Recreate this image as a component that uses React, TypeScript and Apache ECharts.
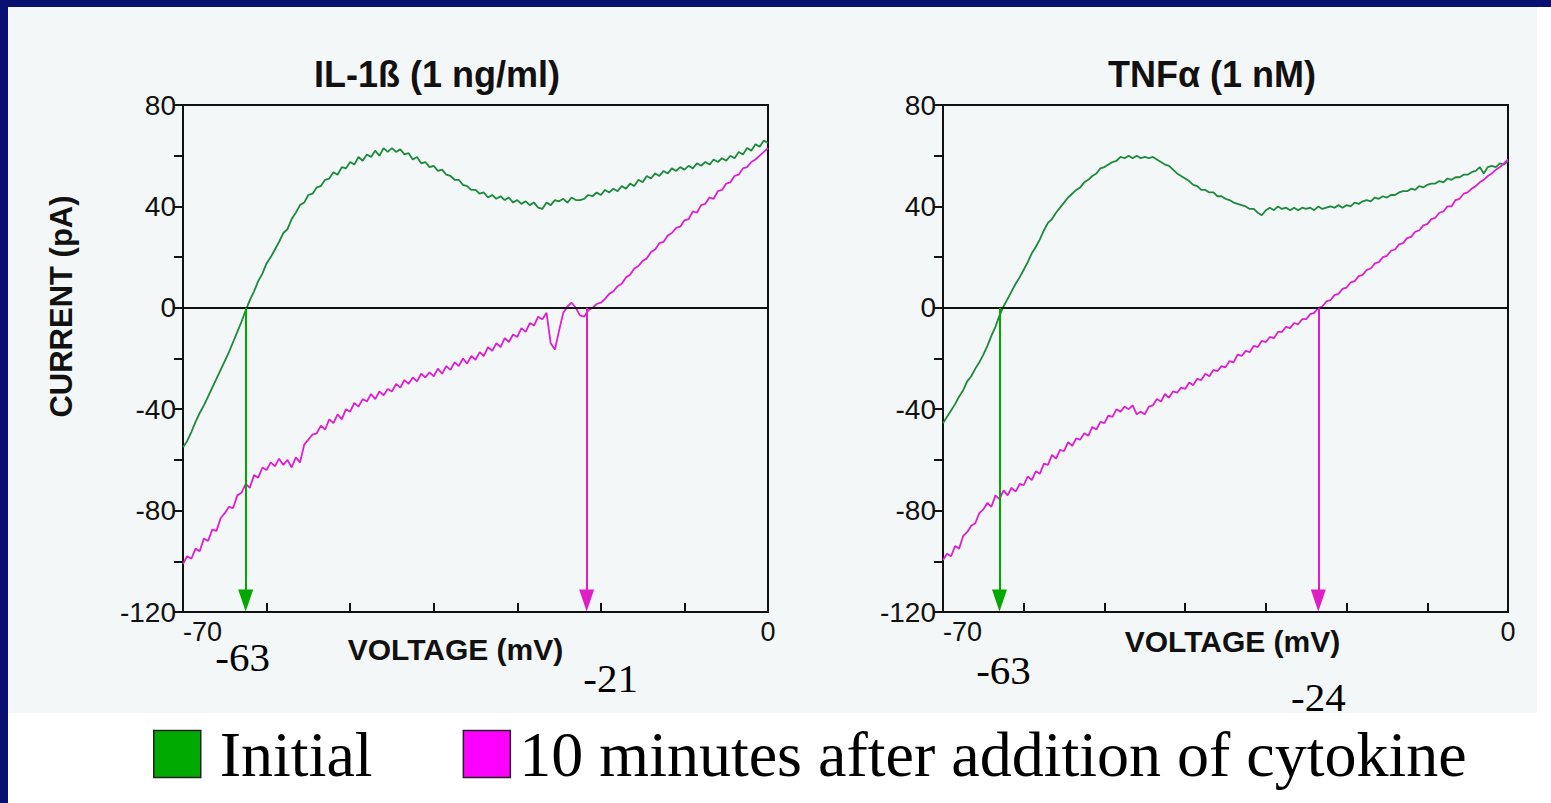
import React, { useEffect, useRef } from "react";
import * as echarts from "echarts";

// ---------- data ----------
const panelTitles = ["IL-1ß (1 ng/ml)", "TNF\u03b1 (1 nM)"];
const seriesNames = ["Initial", "10 minutes after addition of cytokine"];
const xLabelValues = [-70, 0];
const yLabelValues = [-120, -80, -40, 0, 40, 80];

// voltage ramp sampling: -70 mV to 0 mV, one sample every 0.5 mV
const voltageStart = -70;
const voltageStep = 0.5;

const il1bInitial = [
  -55, -52.5, -49, -45, -41.5, -38.5, -35, -31.5, -28, -24.5,
  -21, -17.5, -13.5, -9.5, -5.5, -1, 3, 6.5, 10.5, 13.5,
  17.5, 20, 23, 26, 29.5, 31, 35, 37.5, 40.5, 41.5,
  44.5, 45, 47.5, 48, 50.5, 51, 53.5, 52.5, 55.5, 55,
  57.5, 56.5, 59.5, 58, 60.5, 59.5, 62, 60, 63, 61.5,
  63, 61.5, 62.5, 60.5, 61, 58.5, 59.5, 57, 57.5, 55.5,
  56, 54, 54.5, 52.5, 52, 50.5, 50.5, 48.5, 48, 46.5,
  46.5, 45, 45.5, 43.5, 44.5, 43, 44, 42.5, 43.5, 41.5,
  42.5, 41, 42, 40.5, 41.5, 39.5, 39, 41.5, 40.5, 42.5,
  42, 43, 41.5, 43.5, 42.5, 42.5, 43, 44.5, 44, 45.5,
  44.5, 46.5, 45.5, 47, 46, 48, 47, 49, 48, 50.5,
  49.5, 52, 51, 53, 52, 54, 53, 55, 54, 55.5,
  54.5, 56, 55, 57, 56, 57.5, 56.5, 58.5, 57.5, 59,
  58, 60, 59, 61.5, 60.5, 63, 62, 64.5, 63.5, 66,
  65,
];

const il1bAfter = [
  -101, -98, -99, -95, -96, -91, -92, -87.5, -88, -83,
  -81, -78.5, -79, -74, -73, -69.5, -71, -66, -67, -63,
  -64, -61, -62.5, -59.5, -62, -60, -63, -59, -61, -54,
  -52, -50, -49.5, -46.5, -48, -44, -45.5, -42, -44, -40,
  -41, -37.5, -39, -36, -37, -34, -36, -33, -34.5, -32,
  -33, -30, -31.5, -28.5, -30, -27.5, -29, -26, -27.5, -25.5,
  -27, -24, -26, -23, -24.5, -21.5, -23, -20, -22, -19,
  -20.5, -17.5, -19, -15.5, -17, -14, -15.5, -12, -13.5, -10.5,
  -11.5, -8, -9.5, -6, -7, -3.5, -4.5, -2, -14, -16.5,
  -9, -2, 0.5, 2, 0, -3, -3.5, -1, 0, 1.5,
  2, 3.5, 5.5, 6.5, 8.5, 9.5, 12, 13, 15.5, 16.5,
  18.5, 19.5, 22, 23, 25.5, 26, 28.5, 29.5, 31.5, 32,
  34.5, 35, 38, 37.5, 40.5, 41, 43.5, 43, 46, 46.5,
  49, 49.5, 52, 52.5, 55, 55.5, 57.5, 58.5, 60, 61.5,
  63,
];

const tnfInitial = [
  -45.5, -43, -40.5, -38, -35, -32.5, -29, -27, -24, -21.5,
  -18.5, -15, -11, -7.5, -3, 0.5, 3.5, 6.5, 9.5, 12,
  15, 18, 21.5, 24, 27, 30.5, 33.5, 35, 37.5, 39.5,
  41.5, 43.5, 45, 46.5, 47.5, 49.5, 50.5, 52, 53, 55,
  55.5, 56.5, 57.5, 58, 59.5, 59, 60, 59, 60, 59,
  59.5, 59, 59.5, 58.5, 57.5, 56.5, 56, 54.5, 53, 52,
  51, 50, 48.5, 48, 46.5, 46.5, 45.5, 45.5, 44, 44,
  43, 42.5, 41.5, 41, 40.5, 40, 39, 39, 37.5, 36.5,
  38.5, 39.5, 38.5, 40, 39, 39.5, 38.5, 39.5, 38.5, 39.5,
  39, 39.5, 38.5, 40, 39, 39.5, 40, 39.5, 40.5, 39.5,
  40.5, 40, 41.5, 41, 42, 42.5, 42, 43.5, 43, 44,
  43.5, 44.5, 44.5, 45.5, 46, 46, 47, 46.5, 48, 47.5,
  48.5, 49, 49, 50, 49.5, 51, 50.5, 51.5, 51.5, 52.5,
  52.5, 53.5, 54, 55.5, 53, 55.5, 56, 55.5, 57, 56.5,
  58,
];

const tnfAfter = [
  -99.5, -97, -98, -94, -95, -90, -88.5, -86, -85, -81,
  -79.5, -77, -78.5, -74, -75.5, -72, -74, -71, -72.5, -69.5,
  -70, -66.5, -68, -64.5, -65.5, -61.5, -62, -58, -59.5, -56,
  -56.5, -53, -54.5, -51.5, -52, -49.5, -50.5, -47, -48, -45,
  -45.5, -42.5, -43, -40, -41, -39, -40, -38.5, -42, -41,
  -42, -39, -38.5, -36, -37, -34, -35.5, -33, -33.5, -31.5,
  -32, -29.5, -30.5, -28, -28.5, -26, -27, -24.5, -25, -23,
  -23.5, -21, -21.5, -18.5, -19, -17, -17.5, -15, -15.5, -13,
  -13.5, -11.5, -12, -9.5, -9.5, -7.5, -8, -6, -6.5, -4.5,
  -4.5, -2.5, -2, 0, 0.5, 2.5, 3, 5, 5.5, 7.5,
  8, 10, 10.5, 12.5, 13, 15, 15.5, 17.5, 18, 20,
  20.5, 22.5, 23, 25, 25.5, 27.5, 28, 30, 30.5, 32.5,
  33, 35, 35.5, 37.5, 38, 40, 40, 42.5, 43, 45,
  45.5, 47, 48, 49.5, 50.5, 52, 53, 54.5, 55.5, 57,
  58.5,
];

// reversal potentials marked with arrows (initial, after cytokine)
const il1bArrowVoltages = [-62.5, -21.7];
const il1bArrowLabels = ["-63", "-21"];
const tnfArrowVoltages = [-63.0, -23.5];
const tnfArrowLabels = ["-63", "-24"];

// ---------- styling ----------
const SANS = "'Liberation Sans', Arial, Helvetica, sans-serif";
const SERIF = "'Liberation Serif', 'Times New Roman', serif";
const TRACE_GREEN = "#1b8a3c";
const TRACE_MAGENTA = "#dd1fd4";
const ARROW_GREEN = "#00a800";
const ARROW_MAGENTA = "#e01ec6";
const LEGEND_GREEN = "#00aa00";
const LEGEND_MAGENTA = "#ff00ff";
const NAVY = "#0a0f72";
const AXIS = "#111111";

const toPairs = (vals: number[]) =>
  vals.map((y, i) => [voltageStart + i * voltageStep, y]);

function arrowLine(v: number, color: string) {
  return [
    { coord: [v, 0], symbol: "none", lineStyle: { color, width: 2, type: "solid" } },
    { coord: [v, -115.5], symbol: "triangle", symbolSize: [15, 22] },
  ];
}

function labelPoint(v: number, text: string, offset: number[]) {
  return {
    coord: [v, -120],
    symbol: "rect",
    symbolSize: 0,
    label: {
      show: true,
      formatter: text,
      offset,
      fontFamily: SERIF,
      fontSize: 41,
      color: "#000",
    },
  };
}

export default function App() {
  const ref = useRef<HTMLDivElement>(null);

  useEffect(() => {
    if (!ref.current) return;
    const chart = echarts.init(ref.current, undefined, { renderer: "svg" });

    const grids = [
      { left: 183, top: 105, width: 585, height: 507 },
      { left: 943, top: 105, width: 565, height: 507 },
    ];

    const xAxisBase = (gi: number, namePad: number[], nameGap: number) => ({
      type: "value",
      gridIndex: gi,
      min: -70,
      max: 0,
      interval: 10,
      name: "VOLTAGE (mV)",
      nameLocation: "middle",
      nameGap,
      nameMoveOverlap: false,
      nameTextStyle: {
        fontFamily: SANS,
        fontWeight: "bold",
        fontSize: 30,
        color: "#111",
        padding: namePad,
        verticalAlign: "top",
      },
      axisLine: { show: true, onZero: false, lineStyle: { color: AXIS, width: 2 } },
      axisTick: { show: true, inside: true, length: 9, lineStyle: { color: AXIS, width: 2 } },
      axisLabel: {
        show: true,
        showMinLabel: true,
        showMaxLabel: true,
        alignMinLabel: "left",
        margin: 6,
        fontFamily: SANS,
        fontSize: 27,
        color: "#111",
        formatter: (v: number) => (xLabelValues.includes(v) ? String(v) : ""),
      },
      splitLine: { show: false },
    });

    const yAxisBase = (gi: number, withName: boolean) => ({
      type: "value",
      gridIndex: gi,
      min: -120,
      max: 80,
      interval: 20,
      name: withName ? "CURRENT (pA)" : "",
      nameLocation: "middle",
      nameGap: 106,
      nameMoveOverlap: false,
      nameTextStyle: {
        fontFamily: SANS,
        fontWeight: "bold",
        fontSize: 31,
        color: "#111",
        padding: [0, 0, 0, 104],
      },
      axisLine: { show: true, onZero: false, lineStyle: { color: AXIS, width: 2 } },
      axisTick: { show: true, inside: false, length: 9, lineStyle: { color: AXIS, width: 2 } },
      axisLabel: {
        show: true,
        margin: 7,
        fontFamily: SANS,
        fontSize: 28,
        color: "#111",
        formatter: (v: number) => (yLabelValues.includes(v) ? String(v) : ""),
      },
      splitLine: { show: false },
    });

    const makeInitial = (
      gi: number,
      data: number[],
      arrowV: number,
      label: string,
      labelOffset: number[]
    ) => ({
      name: seriesNames[0],
      type: "line",
      xAxisIndex: gi,
      yAxisIndex: gi,
      data: toPairs(data),
      showSymbol: false,
      symbol: "none",
      lineStyle: { color: TRACE_GREEN, width: 1.8 },
      itemStyle: { color: TRACE_GREEN },
      z: 3,
      markLine: {
        silent: true,
        symbol: ["none", "none"],
        label: { show: false },
        data: [
          { yAxis: 0, lineStyle: { color: AXIS, width: 2, type: "solid" } },
          arrowLine(arrowV, ARROW_GREEN),
        ],
        itemStyle: { color: ARROW_GREEN },
        lineStyle: { color: ARROW_GREEN, width: 2, type: "solid" },
      },
      markPoint: {
        silent: true,
        data: [labelPoint(arrowV, label, labelOffset)],
      },
    });

    const makeAfter = (
      gi: number,
      data: number[],
      arrowV: number,
      label: string,
      labelOffset: number[]
    ) => ({
      name: seriesNames[1],
      type: "line",
      xAxisIndex: gi,
      yAxisIndex: gi,
      data: toPairs(data),
      showSymbol: false,
      symbol: "none",
      lineStyle: { color: TRACE_MAGENTA, width: 1.8 },
      itemStyle: { color: TRACE_MAGENTA },
      z: 3,
      markLine: {
        silent: true,
        symbol: ["none", "none"],
        label: { show: false },
        data: [arrowLine(arrowV, ARROW_MAGENTA)],
        itemStyle: { color: ARROW_MAGENTA },
        lineStyle: { color: ARROW_MAGENTA, width: 2, type: "solid" },
      },
      markPoint: {
        silent: true,
        data: [labelPoint(arrowV, label, labelOffset)],
      },
    });

    const option = {
      animation: false,
      backgroundColor: "#ffffff",
      graphic: [
        {
          type: "rect",
          z: -100,
          silent: true,
          shape: { x: 8, y: 7, width: 1529, height: 706 },
          style: { fill: "#f4f7f7" },
        },
        {
          type: "rect",
          z: -90,
          silent: true,
          shape: { x: 0, y: 0, width: 1551, height: 7 },
          style: { fill: NAVY },
        },
        {
          type: "rect",
          z: -90,
          silent: true,
          shape: { x: 0, y: 0, width: 8, height: 803 },
          style: { fill: NAVY },
        },
      ],
      title: [
        {
          text: panelTitles[0],
          left: 437,
          top: 56,
          textAlign: "center",
          padding: 0,
          textStyle: { fontFamily: SANS, fontWeight: "bold", fontSize: 36, color: "#111" },
        },
        {
          text: panelTitles[1],
          left: 1212,
          top: 56,
          textAlign: "center",
          padding: 0,
          textStyle: { fontFamily: SANS, fontWeight: "bold", fontSize: 36, color: "#111" },
        },
      ],
      legend: {
        left: 153,
        top: 722,
        padding: 0,
        itemWidth: 47,
        itemHeight: 47,
        itemGap: 90,
        icon: "rect",
        selectedMode: false,
        itemStyle: { borderColor: "#222", borderWidth: 1.5 },
        textStyle: { fontFamily: SERIF, fontSize: 64, color: "#000" },
        data: [
          {
            name: seriesNames[0],
            itemStyle: { color: LEGEND_GREEN, borderColor: "#222", borderWidth: 1.5 },
            textStyle: { padding: [0, 0, 0, 14] },
          },
          {
            name: seriesNames[1],
            itemStyle: { color: LEGEND_MAGENTA, borderColor: "#222", borderWidth: 1.5 },
            textStyle: { padding: [0, 0, 0, 4] },
          },
        ],
      },
      grid: grids.map((g) => ({
        ...g,
        show: true,
        borderColor: AXIS,
        borderWidth: 2,
        backgroundColor: "transparent",
      })),
      xAxis: [xAxisBase(0, [0, 40, 0, 0], 22), xAxisBase(1, [0, 0, 0, 14], 14)],
      yAxis: [yAxisBase(0, true), yAxisBase(1, false)],
      series: [
        makeInitial(0, il1bInitial, il1bArrowVoltages[0], il1bArrowLabels[0], [-3, 45]),
        makeAfter(0, il1bAfter, il1bArrowVoltages[1], il1bArrowLabels[1], [24, 66]),
        makeInitial(1, tnfInitial, tnfArrowVoltages[0], tnfArrowLabels[0], [4, 58]),
        makeAfter(1, tnfAfter, tnfArrowVoltages[1], tnfArrowLabels[1], [0, 85]),
      ],
    };

    chart.setOption(option as any);
    return () => chart.dispose();
  }, []);

  return (
    <div
      ref={ref}
      style={{ position: "fixed", left: 0, top: 0, width: 1551, height: 803 }}
    />
  );
}
